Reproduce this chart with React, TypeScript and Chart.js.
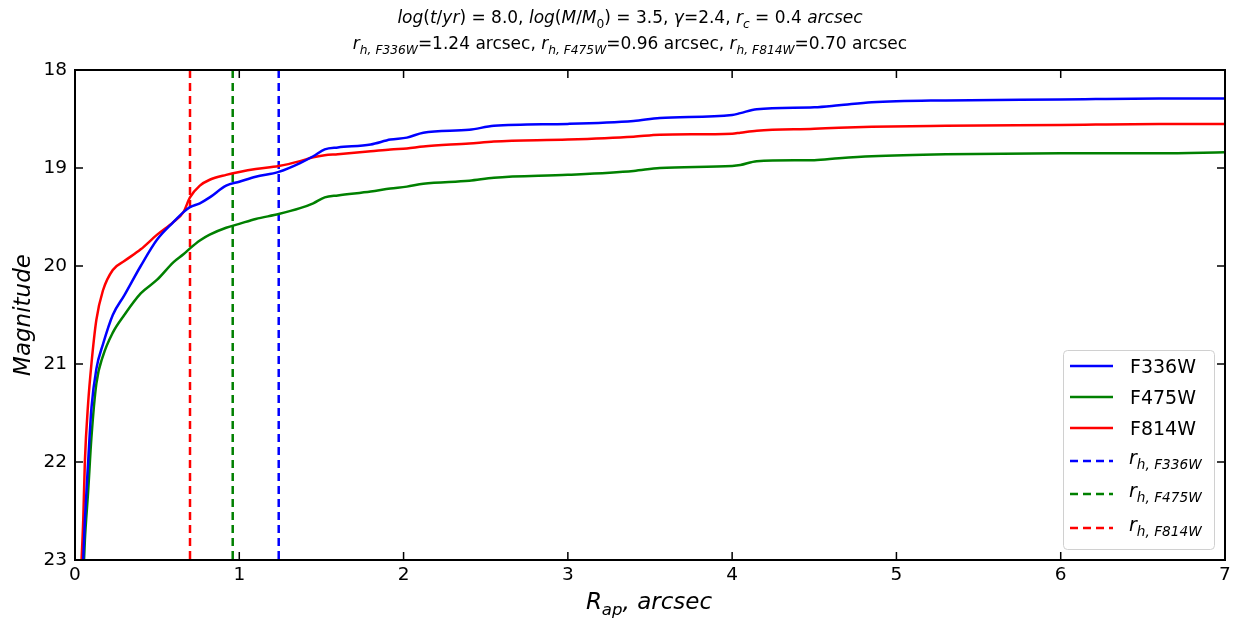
import React, { useEffect, useRef } from "react";
import { Chart, registerables } from "chart.js";
Chart.register(...registerables);

// Aperture radius (arcsec)
const radii = [0.04, 0.05, 0.06, 0.08, 0.1, 0.13, 0.17, 0.23, 0.3, 0.4, 0.5, 0.6, 0.66, 0.7, 0.76, 0.82, 0.92, 1.0, 1.1, 1.24, 1.37, 1.45, 1.52, 1.6, 1.8, 1.92, 2.02, 2.12, 2.4, 2.55, 3.0, 3.4, 3.56, 4.0, 4.05, 4.15, 4.5, 4.65, 4.85, 5.3, 6.0, 6.6, 7.0];
const magF336W = [23.5, 23.0, 22.6, 22.0, 21.45, 21.05, 20.8, 20.5, 20.3, 20.0, 19.73, 19.55, 19.45, 19.4, 19.36, 19.3, 19.18, 19.14, 19.09, 19.04, 18.95, 18.88, 18.81, 18.79, 18.76, 18.71, 18.69, 18.64, 18.61, 18.57, 18.55, 18.52, 18.49, 18.46, 18.44, 18.4, 18.38, 18.36, 18.33, 18.31, 18.3, 18.29, 18.29];
const magF475W = [23.7, 23.2, 22.8, 22.3, 21.75, 21.2, 20.92, 20.68, 20.5, 20.28, 20.14, 19.96, 19.88, 19.82, 19.74, 19.68, 19.61, 19.57, 19.52, 19.47, 19.41, 19.36, 19.3, 19.28, 19.24, 19.21, 19.19, 19.16, 19.13, 19.1, 19.07, 19.03, 19.0, 18.98, 18.97, 18.93, 18.92, 18.9, 18.88, 18.86, 18.85, 18.85, 18.84];
const magF814W = [23.0, 22.6, 22.0, 21.4, 21.0, 20.55, 20.25, 20.04, 19.95, 19.83, 19.68, 19.55, 19.45, 19.3, 19.18, 19.12, 19.07, 19.04, 19.01, 18.98, 18.93, 18.89, 18.87, 18.86, 18.83, 18.81, 18.8, 18.78, 18.75, 18.73, 18.71, 18.68, 18.66, 18.65, 18.64, 18.62, 18.6, 18.59, 18.58, 18.57, 18.56, 18.55, 18.55];

const bandNames = ["F336W", "F475W", "F814W"];
const bandColors = ["#0000ff", "#008000", "#ff0000"];
const halfLightRadii = [1.24, 0.96, 0.7];
const xTickValues = [0, 1, 2, 3, 4, 5, 6, 7];
const yTickValues = [18, 19, 20, 21, 22, 23];

const FONT = "'DejaVu Sans', sans-serif";

type Run = { t: string; it?: boolean; sub?: boolean };

function subSize(size: number) {
  return size * 0.72;
}

function runsWidth(ctx: CanvasRenderingContext2D, runs: Run[], size: number) {
  let w = 0;
  for (const r of runs) {
    ctx.font = `${r.it ? "italic " : ""}${r.sub ? subSize(size) : size}px ${FONT}`;
    w += ctx.measureText(r.t).width;
  }
  return w;
}

function drawRuns(ctx: CanvasRenderingContext2D, runs: Run[], x: number, y: number, size: number, align: "left" | "center") {
  const w = runsWidth(ctx, runs, size);
  let cx = align === "center" ? x - w / 2 : x;
  ctx.textAlign = "left";
  ctx.textBaseline = "alphabetic";
  ctx.fillStyle = "#000";
  for (const r of runs) {
    ctx.font = `${r.it ? "italic " : ""}${r.sub ? subSize(size) : size}px ${FONT}`;
    ctx.fillText(r.t, cx, r.sub ? y + size * 0.28 : y);
    cx += ctx.measureText(r.t).width;
  }
}

const title1: Run[] = [
  { t: "log", it: true }, { t: "(" }, { t: "t", it: true }, { t: "/" }, { t: "yr", it: true },
  { t: ") = 8.0, " }, { t: "log", it: true }, { t: "(" }, { t: "M", it: true }, { t: "/" },
  { t: "M", it: true }, { t: "0", sub: true }, { t: ") = 3.5, " }, { t: "γ", it: true },
  { t: "=2.4, " }, { t: "r", it: true }, { t: "c", it: true, sub: true }, { t: " = 0.4 " },
  { t: "arcsec", it: true },
];
const title2: Run[] = [];
bandNames.forEach((b, i) => {
  title2.push({ t: "r", it: true }, { t: "h, " + b, it: true, sub: true },
    { t: "=" + halfLightRadii[i].toFixed(2) + " arcsec" + (i < 2 ? ", " : "") });
});

const decorPlugin = {
  id: "decor",
  afterDraw(chart: any) {
    const ctx: CanvasRenderingContext2D = chart.ctx;
    const a = chart.chartArea;
    const xs = chart.scales.x;
    const ys = chart.scales.y;
    ctx.save();
    // frame
    ctx.strokeStyle = "#000";
    ctx.lineWidth = 2;
    ctx.strokeRect(a.left, a.top, a.right - a.left, a.bottom - a.top);
    // inward ticks
    ctx.lineWidth = 1.5;
    const tl = 8;
    ctx.beginPath();
    for (const v of xTickValues) {
      const px = xs.getPixelForValue(v);
      ctx.moveTo(px, a.bottom); ctx.lineTo(px, a.bottom - tl);
      ctx.moveTo(px, a.top); ctx.lineTo(px, a.top + tl);
    }
    for (const v of yTickValues) {
      const py = ys.getPixelForValue(v);
      ctx.moveTo(a.left, py); ctx.lineTo(a.left + tl, py);
      ctx.moveTo(a.right, py); ctx.lineTo(a.right - tl, py);
    }
    ctx.stroke();

    // titles
    const cx = 630;
    drawRuns(ctx, title1, cx, 23, 17, "center");
    drawRuns(ctx, title2, cx, 49, 17, "center");

    // axis titles
    drawRuns(ctx, [{ t: "R", it: true }, { t: "ap", it: true, sub: true }, { t: ", arcsec", it: true }],
      649, 609, 23, "center");
    ctx.save();
    ctx.translate(30, (a.top + a.bottom) / 2);
    ctx.rotate(-Math.PI / 2);
    drawRuns(ctx, [{ t: "Magnitude", it: true }], 0, 0, 23, "center");
    ctx.restore();

    // legend
    const lx = 1063, ly = 350, lw = 151, lh = 199;
    ctx.beginPath();
    ctx.fillStyle = "rgba(255,255,255,0.85)";
    ctx.strokeStyle = "#d0d0d0";
    ctx.lineWidth = 1;
    (ctx as any).roundRect(lx + 0.5, ly + 0.5, lw, lh, 4);
    ctx.fill();
    ctx.stroke();
    const rows = [366, 397, 428, 461, 494, 528];
    for (let i = 0; i < 6; i++) {
      const c = bandColors[i % 3];
      const y = rows[i];
      ctx.beginPath();
      ctx.strokeStyle = c;
      ctx.lineWidth = 2.5;
      ctx.setLineDash(i < 3 ? [] : [8, 5]);
      ctx.moveTo(1070, y);
      ctx.lineTo(1113, y);
      ctx.stroke();
      ctx.setLineDash([]);
      if (i < 3) {
        drawRuns(ctx, [{ t: bandNames[i] }], 1130, y + 7, 19, "left");
      } else {
        drawRuns(ctx, [{ t: "r", it: true }, { t: "h, " + bandNames[i - 3], it: true, sub: true }], 1129, y + 3, 19, "left");
      }
    }
    ctx.restore();
  },
};

export default function App() {
  const ref = useRef<HTMLCanvasElement | null>(null);
  useEffect(() => {
    document.body.style.margin = "0";
    const mags = [magF336W, magF475W, magF814W];
    const curveSets = bandNames.map((b, i) => ({
      label: b,
      data: radii.map((r, k) => ({ x: r, y: mags[i][k] })),
      borderColor: bandColors[i],
      borderWidth: 2.5,
      pointRadius: 0,
      cubicInterpolationMode: "monotone" as const,
      fill: false,
    }));
    const lineSets = bandNames.map((b, i) => ({
      label: "r_h," + b,
      data: [{ x: halfLightRadii[i], y: yTickValues[0] }, { x: halfLightRadii[i], y: yTickValues[yTickValues.length - 1] }],
      borderColor: bandColors[i],
      borderWidth: 2.5,
      borderDash: [8, 5],
      pointRadius: 0,
      tension: 0,
      fill: false,
    }));
    const chart = new Chart(ref.current as HTMLCanvasElement, {
      type: "line",
      data: { datasets: [...curveSets, ...lineSets] as any },
      options: {
        animation: false,
        responsive: false,
        layout: { padding: { left: 0, right: 10, top: 70, bottom: 0 } },
        plugins: { legend: { display: false }, tooltip: { enabled: false } },
        scales: {
          x: {
            type: "linear",
            min: 0,
            max: 7,
            ticks: { stepSize: 1, color: "#000", font: { size: 18.5, family: FONT }, padding: 4, maxRotation: 0 },
            grid: { display: false, drawTicks: false },
            border: { display: false },
            afterFit: (s: any) => { s.height = 60; },
          },
          y: {
            type: "linear",
            reverse: true,
            min: 18,
            max: 23,
            ticks: { stepSize: 1, color: "#000", font: { size: 18.5, family: FONT }, padding: 8 },
            grid: { display: false, drawTicks: false },
            border: { display: false },
            afterFit: (s: any) => { s.width = 75; },
          },
        },
      } as any,
      plugins: [decorPlugin],
    });
    return () => chart.destroy();
  }, []);
  return <canvas ref={ref} width={1235} height={620} style={{ display: "block" }} />;
}
